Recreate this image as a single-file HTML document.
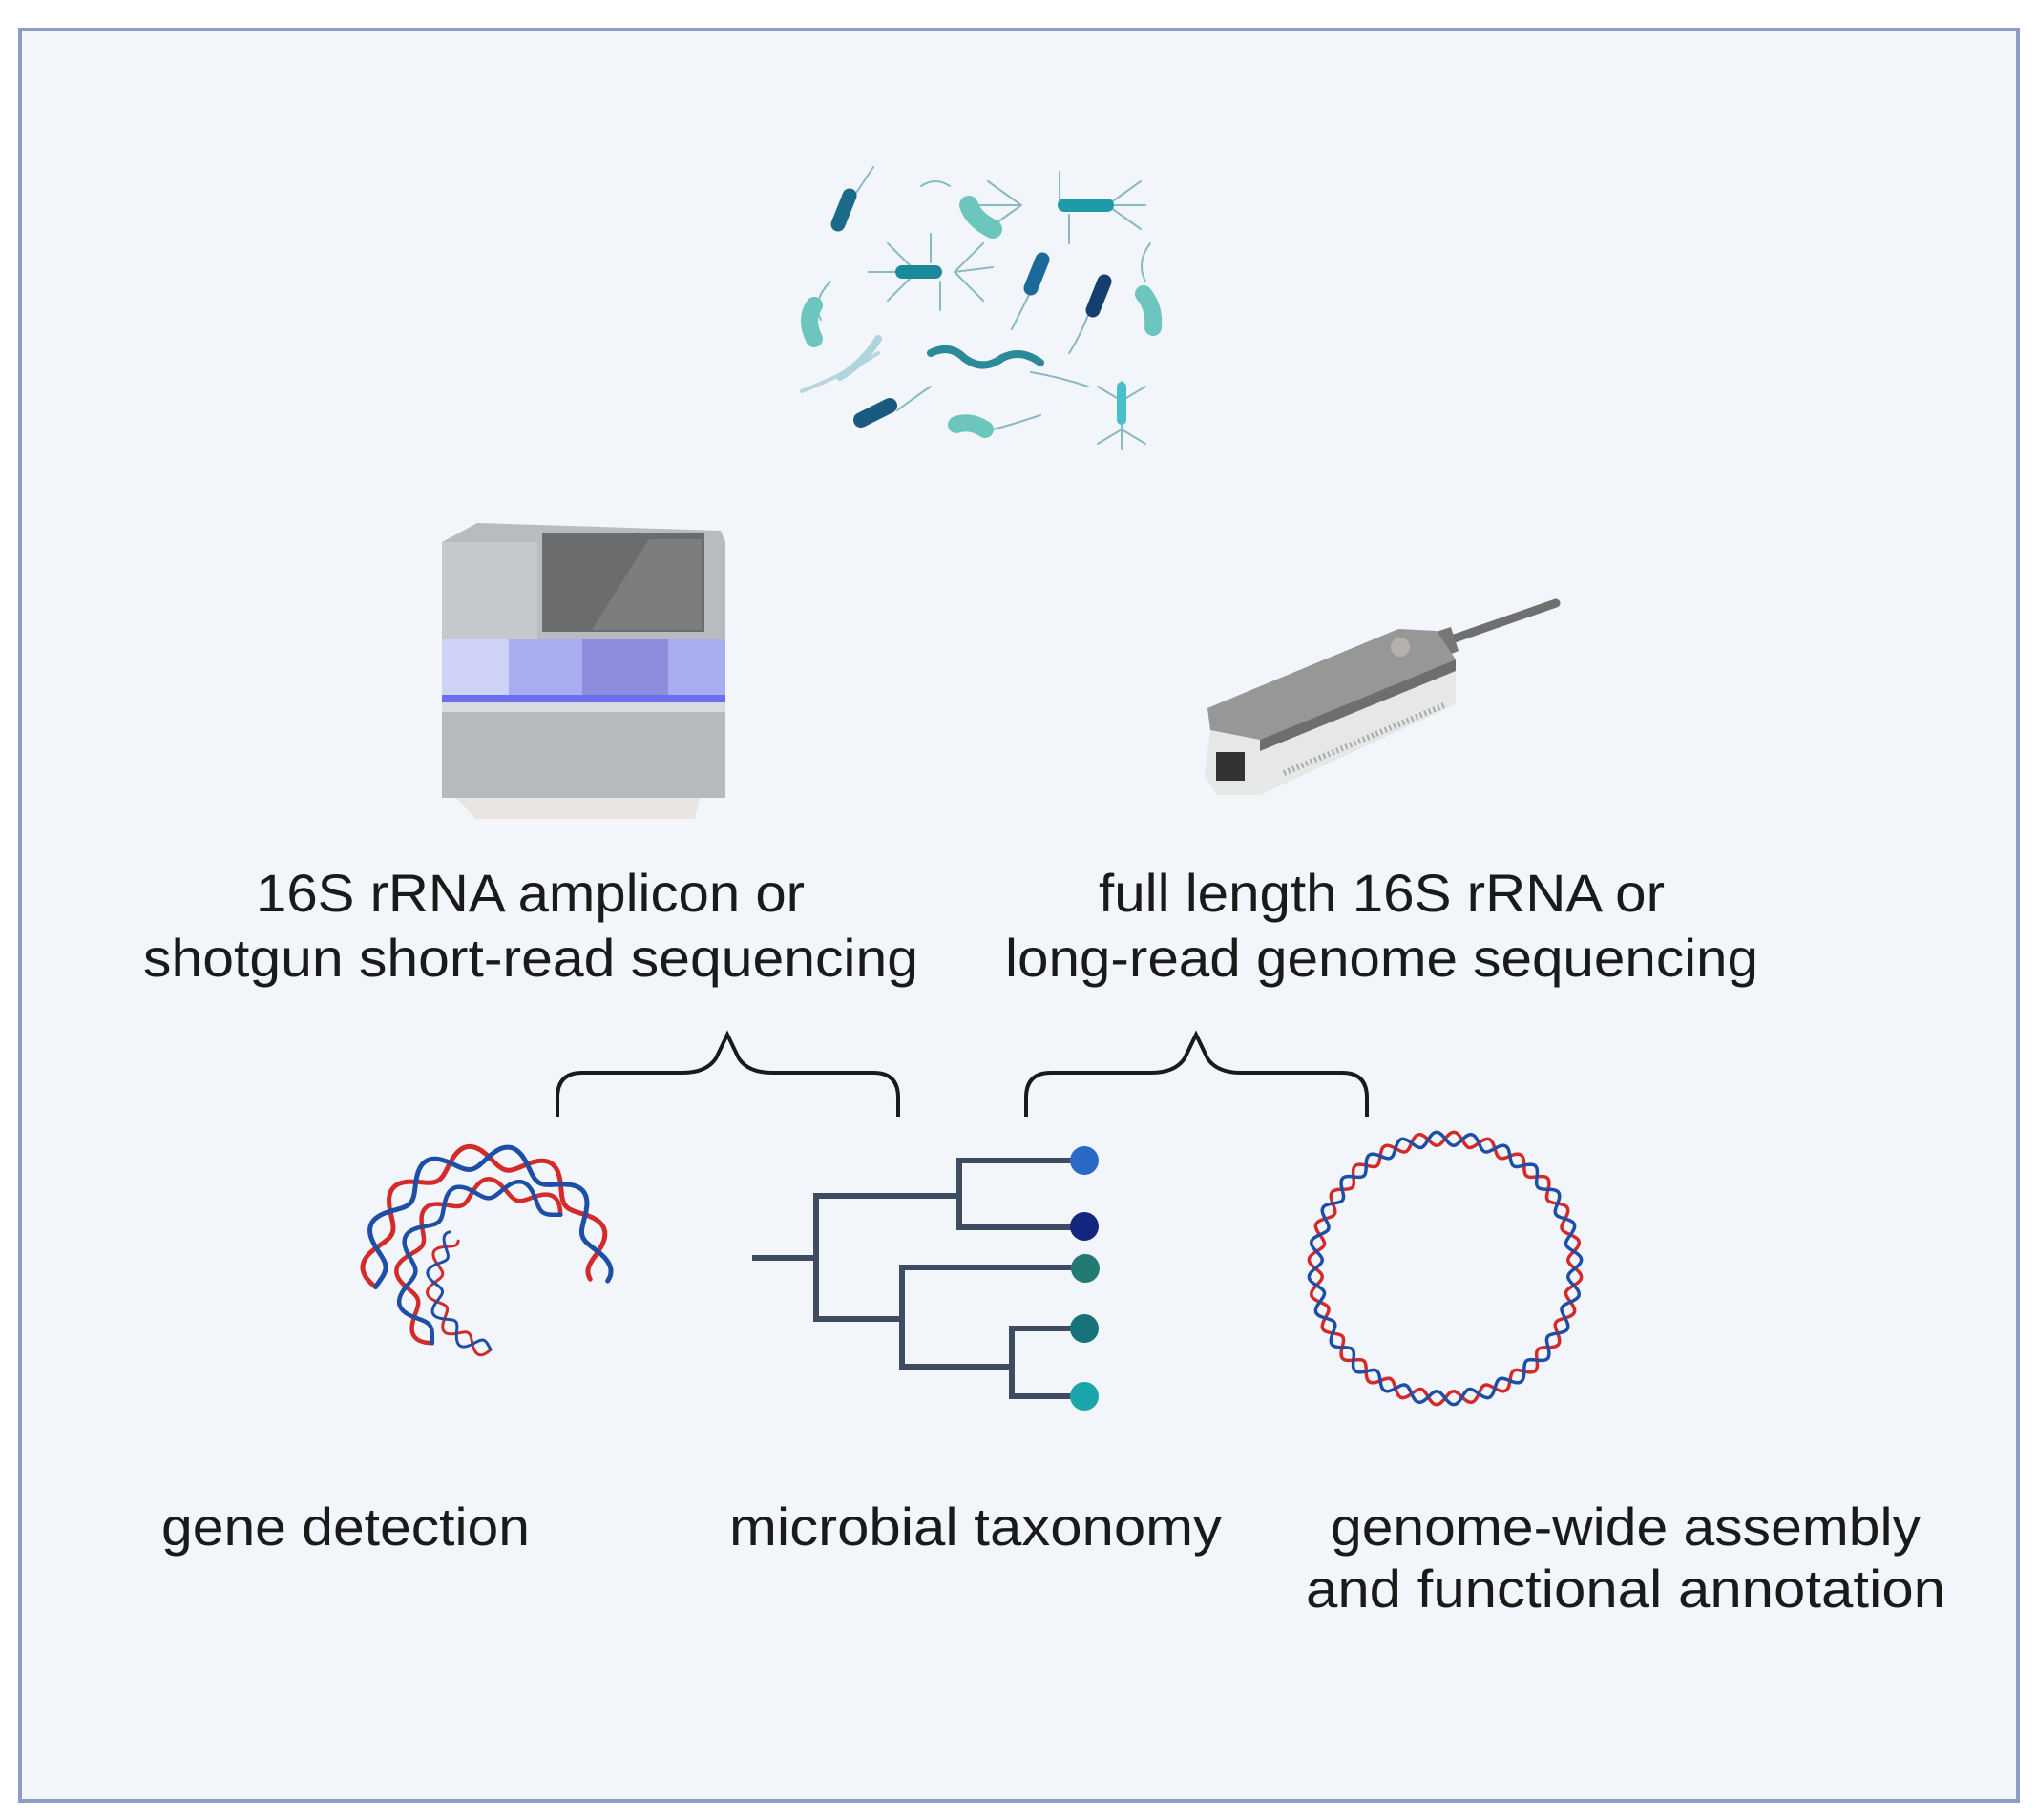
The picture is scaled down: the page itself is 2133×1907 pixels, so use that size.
<!DOCTYPE html>
<html><head><meta charset="utf-8"><style>
html,body{margin:0;padding:0;background:#fff;}
svg{display:block;}
text{font-family:"Liberation Sans",sans-serif;fill:#1a1a1a;}
</style></head><body>
<svg id="s" width="2133" height="1907" viewBox="0 0 2133 1907" xmlns="http://www.w3.org/2000/svg">
<rect x="0" y="0" width="2133" height="1907" fill="#ffffff"/>
<rect x="21" y="31" width="2093" height="1856" fill="#f2f6fa" stroke="#8d9cc6" stroke-width="4"/>

<!-- bacteria -->
<g stroke-linecap="round" fill="none">
 <g stroke="#8ab9c4" stroke-width="2">
  <path d="M895 205 q10 -15 20 -30"/>
  <path d="M965 195 q15 -10 30 0"/>
  <path d="M1070 215 l-50 0 M1070 215 l-35 -25 M1070 215 l-35 25 M1160 215 l40 0 M1160 215 l35 -25 M1160 215 l35 25 M1110 210 l0 -30 M1120 225 l0 30"/>
  <path d="M960 285 l-50 0 M960 285 l-30 -30 M960 285 l-30 30 M1000 285 l40 -5 M1000 285 l30 -30 M1000 285 l30 30 M975 275 l0 -30 M985 295 l0 30"/>
  <path d="M1080 305 q-10 20 -20 40"/>
  <path d="M1140 330 q-10 25 -20 40"/>
  <path d="M1200 295 q-10 -20 5 -40"/>
  <path d="M860 335 q-10 -20 10 -40"/>
  <path d="M920 370 q-30 20 -80 40" stroke="#b8d6de" stroke-width="4"/>
  <path d="M1080 390 q30 5 60 15"/>
  <path d="M940 430 q20 -15 35 -25"/>
  <path d="M1040 450 q20 -5 50 -15"/>
  <path d="M1175 400 l0 70 M1175 420 l-25 -15 M1175 420 l25 -15 M1175 450 l-25 15 M1175 450 l25 15"/>
 </g>
 <path d="M890 205 l-12 30" stroke="#1a6a8a" stroke-width="15"/>
 <path d="M1015 215 q5 15 25 25" stroke="#6cc6be" stroke-width="20"/>
 <path d="M1115 215 l45 0" stroke="#1e9aa8" stroke-width="14"/>
 <path d="M945 285 l35 0" stroke="#1a8a9a" stroke-width="14"/>
 <path d="M1092 272 l-12 30" stroke="#1a6a9a" stroke-width="15"/>
 <path d="M1157 295 l-12 30" stroke="#153f70" stroke-width="15"/>
 <path d="M1198 308 q12 15 10 35" stroke="#6cc6be" stroke-width="18"/>
 <path d="M853 320 q-10 15 0 35" stroke="#6cc6be" stroke-width="18"/>
 <path d="M880 395 q25 -15 40 -40" stroke="#b0d4dc" stroke-width="8"/>
 <path d="M975 370 q20 -10 35 5 q20 15 40 0 q20 -10 40 5" stroke="#2b8a9a" stroke-width="8"/>
 <path d="M902 440 l30 -15" stroke="#1a5a80" stroke-width="16"/>
 <path d="M1002 445 q15 -5 30 5" stroke="#6cc6be" stroke-width="18"/>
 <path d="M1175 405 l0 35" stroke="#48c0cc" stroke-width="10"/>
</g>

<!-- left sequencer -->
<g>
 <path d="M478 560 l22 -12 l255 8 l5 12 l0 110 l-297 0 l0 -110 z" fill="#b9bcbf"/>
 <rect x="463" y="568" width="100" height="102" fill="#c6c9cc"/>
 <rect x="568" y="558" width="170" height="104" fill="#6b6c6e"/>
 <path d="M620 660 l60 -95 l55 0 l0 95 z" fill="#7c7d7f"/>
 <rect x="463" y="670" width="297" height="65" fill="#a7adf0"/>
 <rect x="463" y="670" width="70" height="65" fill="#cfd3f8"/>
 <rect x="610" y="670" width="90" height="65" fill="#8e8cdc"/>
 <rect x="463" y="728" width="297" height="8" fill="#6a6ff0"/>
 <rect x="463" y="736" width="297" height="100" fill="#b6babd"/>
 <rect x="463" y="736" width="297" height="10" fill="#d9dbdd"/>
 <path d="M478 836 l255 0 l-5 22 l-230 0 z" fill="#e9e4e2"/>
</g>

<!-- right device -->
<g>
 <path d="M1515 672 l115 -40" stroke="#6f6f6f" stroke-width="9" stroke-linecap="round"/>
 <path d="M1495 665 l25 -8 l8 25 l-20 8 z" fill="#777"/>
 <path d="M1268 765 l52 10 l205 -82 l0 45 l-205 95 l-45 0 l-13 -20 z" fill="#e6e7e7"/>
 <path d="M1265 742 l200 -83 l40 2 l20 30 l-205 84 l-52 -10 z" fill="#979797"/>
 <path d="M1320 775 l205 -84 l0 12 l-205 84 z" fill="#6e6e6e"/>
 <circle cx="1467" cy="678" r="10" fill="#b5b1ac"/>
 <rect x="1274" y="788" width="30" height="30" fill="#333"/>
 <path d="M1345 810 l170 -72" stroke="#aaa" stroke-width="6" stroke-dasharray="2 3"/>
</g>

<!-- headings -->
<text x="268" y="955" font-size="56" textLength="575" lengthAdjust="spacingAndGlyphs">16S rRNA amplicon or</text>
<text x="150" y="1023" font-size="56" textLength="812" lengthAdjust="spacingAndGlyphs">shotgun short-read sequencing</text>
<text x="1151" y="955" font-size="56" textLength="593" lengthAdjust="spacingAndGlyphs">full length 16S rRNA or</text>
<text x="1053" y="1023" font-size="56" textLength="789" lengthAdjust="spacingAndGlyphs">long-read genome sequencing</text>

<!-- braces -->
<g fill="none" stroke="#1a1a1a" stroke-width="4">
 <path d="M584 1170 l0 -20 q0 -26 26 -26 l105 0 q25 0 35 -15 l12 -25 l12 25 q10 15 35 15 l106 0 q26 0 26 26 l0 20"/>
 <path d="M1075 1170 l0 -20 q0 -26 26 -26 l105 0 q25 0 35 -15 l12 -25 l12 25 q10 15 35 15 l106 0 q26 0 26 26 l0 20"/>
</g>

<!-- tree -->
<g fill="none" stroke="#3d4c60" stroke-width="6" stroke-linecap="square">
 <path d="M791 1318 l64 0"/>
 <path d="M855 1253 l0 129"/>
 <path d="M855 1253 l150 0 M1005 1216 l0 70 M1005 1216 l130 0 M1005 1286 l130 0"/>
 <path d="M855 1382 l90 0 M945 1328 l0 104 M945 1328 l190 0 M945 1432 l115 0 M1060 1392 l0 71 M1060 1392 l75 0 M1060 1463 l75 0"/>
</g>
<circle cx="1136" cy="1216" r="15" fill="#2a6ac6"/>
<circle cx="1136" cy="1285" r="15" fill="#132680"/>
<circle cx="1137" cy="1329" r="15" fill="#237a74"/>
<circle cx="1136" cy="1392" r="15" fill="#18727a"/>
<circle cx="1136" cy="1463" r="15" fill="#18a6ac"/>

<g id="dna" fill="none" stroke-linecap="round"></g>
</g>

<!-- bottom labels -->
<text x="169" y="1619" font-size="56" textLength="386" lengthAdjust="spacingAndGlyphs">gene detection</text>
<text x="764" y="1619" font-size="56" textLength="516" lengthAdjust="spacingAndGlyphs">microbial taxonomy</text>
<text x="1394" y="1619" font-size="56" textLength="618" lengthAdjust="spacingAndGlyphs">genome-wide assembly</text>
<text x="1368" y="1684" font-size="56" textLength="670" lengthAdjust="spacingAndGlyphs">and functional annotation</text>
</svg>
<script>
(function(){
var g=document.getElementById('dna');
function helix(cx,cy,r,a0,a1,amp,n,w){
  var out=['',''];
  for(var k=0;k<2;k++){
    var d='';var N=400;
    for(var i=0;i<=N;i++){
      var t=a0+(a1-a0)*i/N;
      var ph=(t-a0)*n+(k?Math.PI:0);
      var rr=r+amp*Math.sin(ph);
      var x=cx+rr*Math.cos(t),y=cy+rr*Math.sin(t);
      d+=(i?'L':'M')+x.toFixed(1)+' '+y.toFixed(1);
    }
    out[k]=d;
  }
  var cols=['#d32a2a','#1e4fa6'];
  for(var k=0;k<2;k++){
    var p=document.createElementNS('http://www.w3.org/2000/svg','path');
    p.setAttribute('d',out[k]);p.setAttribute('stroke',cols[k]);p.setAttribute('stroke-width',w);
    g.appendChild(p);
  }
}
helix(1514,1329,136,0,2*Math.PI,7,24,3.5);
helix(510,1330,118,Math.PI*0.95,Math.PI*2.03,12,9,5);
helix(520,1340,95,Math.PI*0.75,Math.PI*1.75,10,9,4.5);
helix(525,1345,70,Math.PI*0.55,Math.PI*1.25,8,11,3);
})();
</script>
</body></html>
